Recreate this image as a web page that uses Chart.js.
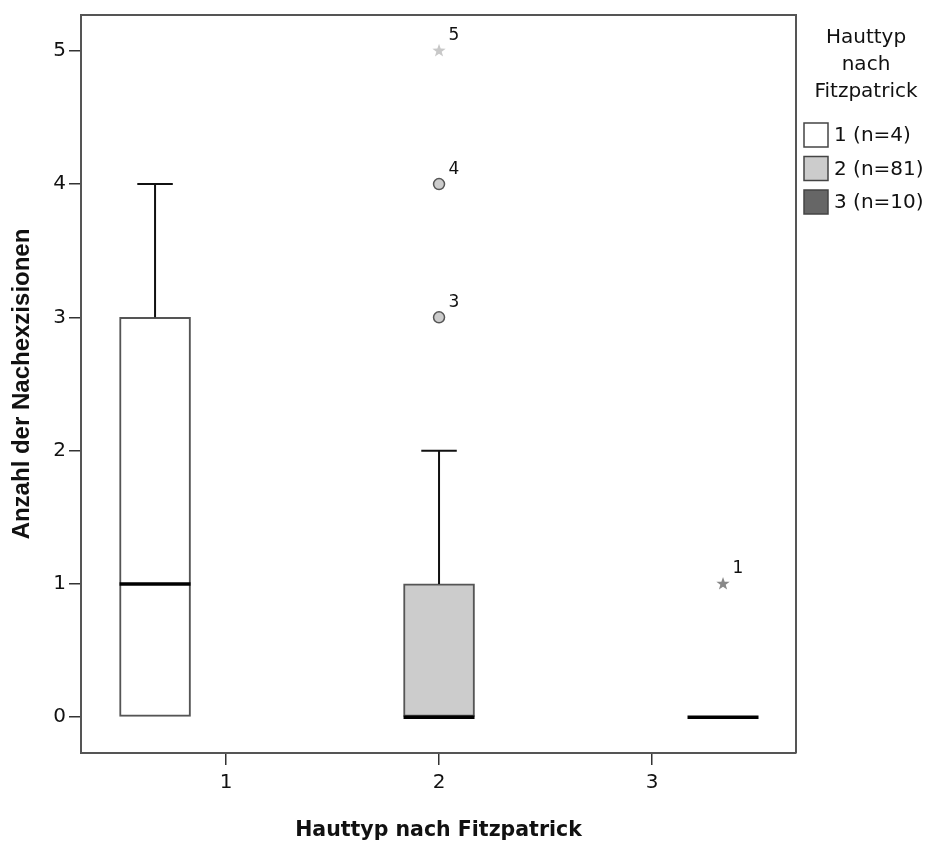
<!DOCTYPE html>
<html>
<head>
<meta charset="utf-8">
<script src="https://cdn.jsdelivr.net/npm/chart.js@4/dist/chart.umd.min.js"></script>
<style>
  html, body { margin: 0; padding: 0; background: #fff; }
  #box { width: 929px; height: 844px; }
</style>
</head>
<body>
<div id="box"><canvas id="chart" width="929" height="844"></canvas></div>
<script>
// Hauttyp nach Fitzpatrick – Boxplot (SPSS-Stil)
const categories = ['1', '2', '3'];
const groupLabels = ['1 (n=4)', '2 (n=81)', '3 (n=10)'];
const q1Values = [0, 0, 0];
const q3Values = [3, 1, 0];
const medianValues = [1, 0, 0];
const whiskerLow = [0, 0, 0];
const whiskerHigh = [4, 2, 0];
// Ausreißer je Gruppe: Wert, Fallnummer, Art (circle = Ausreißer, star = Extremwert)
const outlierValues = [[], [3, 4, 5], [1]];
const outlierIds = [[], ['3', '4', '5'], ['1']];
const outlierKinds = [[], ['circle', 'circle', 'star'], ['star']];
const yTicks = [0, 1, 2, 3, 4, 5];

const fillColors = ['#ffffff', '#cccccc', '#666666'];
const starColors = ['#bbbbbb', '#c8c8c8', '#888888'];
const lineCol = '#555555';
const textCol = '#111111';
const regFont = '"DejaVu Sans", sans-serif';
const boldFont = '"Liberation Sans", Arial, sans-serif';

const datasets = categories.map((c, i) => ({
    label: groupLabels[i]
    ,data: [{ x: Number(c), y: [q1Values[i], q3Values[i]] }]
    ,backgroundColor: fillColors[i]
    ,borderColor: lineCol
    ,borderWidth: 2
    ,borderSkipped: false
    ,categoryPercentage: 1.0
    ,barPercentage: 1.0
}));

function drawStar(ctx, x, y, r, color) {
    ctx.save();
    ctx.fillStyle = color;
    ctx.beginPath();
    for (let k = 0; k < 10; k++) {
        const rr = k % 2 === 0 ? r : r * 0.4;
        const a = -Math.PI / 2 + k * Math.PI / 5;
        const px = x + rr * Math.cos(a), py = y + rr * Math.sin(a);
        if (k === 0) ctx.moveTo(px, py); else ctx.lineTo(px, py);
    }
    ctx.closePath();
    ctx.fill();
    ctx.restore();
}

const boxPlugin = {
    id: 'boxDecor',
    afterDatasetsDraw(chart) {
        const { ctx, chartArea: a, scales: { y } } = chart;
        ctx.save();
        // Rahmen oben / rechts
        ctx.strokeStyle = lineCol;
        ctx.lineWidth = 2;
        ctx.beginPath();
        ctx.moveTo(a.left, a.top); ctx.lineTo(a.right, a.top); ctx.lineTo(a.right, a.bottom);
        ctx.stroke();

        categories.forEach((c, i) => {
            const el = chart.getDatasetMeta(i).data[0];
            if (!el) return;
            const x = el.x, w = el.width;
            // Whisker
            ctx.strokeStyle = '#111';
            ctx.lineWidth = 2;
            const yq3 = y.getPixelForValue(q3Values[i]), yHi = y.getPixelForValue(whiskerHigh[i]);
            const yq1 = y.getPixelForValue(q1Values[i]), yLo = y.getPixelForValue(whiskerLow[i]);
            if (whiskerHigh[i] > q3Values[i]) {
                ctx.beginPath();
                ctx.moveTo(x, yq3); ctx.lineTo(x, yHi);
                ctx.moveTo(x - w / 4, yHi); ctx.lineTo(x + w / 4, yHi);
                ctx.stroke();
            }
            if (whiskerLow[i] < q1Values[i]) {
                ctx.beginPath();
                ctx.moveTo(x, yq1); ctx.lineTo(x, yLo);
                ctx.moveTo(x - w / 4, yLo); ctx.lineTo(x + w / 4, yLo);
                ctx.stroke();
            }
            // Median
            ctx.lineWidth = 3.5;
            ctx.strokeStyle = '#000';
            const ym = y.getPixelForValue(medianValues[i]);
            ctx.beginPath();
            ctx.moveTo(x - w / 2, ym); ctx.lineTo(x + w / 2, ym);
            ctx.stroke();
            // Ausreißer
            outlierValues[i].forEach((v, j) => {
                const py = y.getPixelForValue(v);
                if (outlierKinds[i][j] === 'circle') {
                    ctx.beginPath();
                    ctx.arc(x, py, 5.5, 0, Math.PI * 2);
                    ctx.fillStyle = '#cccccc';
                    ctx.fill();
                    ctx.lineWidth = 1.5;
                    ctx.strokeStyle = lineCol;
                    ctx.stroke();
                } else {
                    drawStar(ctx, x, py, 7, starColors[i]);
                }
                ctx.fillStyle = textCol;
                ctx.font = '17px ' + regFont;
                ctx.textAlign = 'center';
                ctx.textBaseline = 'middle';
                ctx.fillText(outlierIds[i][j], x + 15, py - 15);
            });
        });

        // Legende
        ctx.fillStyle = textCol;
        ctx.font = '20px ' + regFont;
        ctx.textAlign = 'center';
        ctx.textBaseline = 'middle';
        ['Hauttyp', 'nach', 'Fitzpatrick'].forEach((t, k) => ctx.fillText(t, 866, 38 + k * 27));
        ctx.textAlign = 'left';
        groupLabels.forEach((t, k) => {
            const top = 123 + k * 33.5;
            ctx.fillStyle = fillColors[k];
            ctx.fillRect(804, top, 24, 24);
            ctx.strokeStyle = '#444';
            ctx.lineWidth = 1.5;
            ctx.strokeRect(804, top, 24, 24);
            ctx.fillStyle = textCol;
            ctx.fillText(t, 834, top + 13);
        });
        ctx.restore();
    }
};

new Chart(document.getElementById('chart'), {
    type: 'bar',
    data: { datasets },
    options: {
        responsive: false,
        animation: false,
        layout: { padding: { top: 12, right: 133, left: 0, bottom: 0 } },
        plugins: { legend: { display: false }, tooltip: { enabled: false } },
        scales: {
            x: {
                type: 'linear', offset: false, min: 0.319, max: 3.676,
                afterBuildTicks: (s) => { s.ticks = categories.map(c => ({ value: Number(c) })); },
                afterFit: (s) => { s.height = 91; },
                ticks: { color: textCol, font: { family: regFont, size: 20 }, padding: 6,
                    callback: (v) => String(v) },
                grid: { display: true, offset: false, drawOnChartArea: false, drawTicks: true, tickLength: 12, color: '#333', lineWidth: 1.5 },
                border: { display: true, color: lineCol, width: 2 },
                title: { display: true, text: 'Hauttyp nach Fitzpatrick', color: textCol,
                    font: { family: regFont, size: 20.5, weight: 'bold' }, padding: { top: 0, bottom: 1 } }
            },
            y: {
                min: -0.269, max: 5.269,
                afterBuildTicks: (s) => { s.ticks = yTicks.map(v => ({ value: v })); },
                afterFit: (s) => { s.width = 81; },
                ticks: { color: textCol, font: { family: regFont, size: 20 }, padding: 3 },
                grid: { display: true, drawOnChartArea: false, drawTicks: true, tickLength: 12, color: '#333', lineWidth: 1.5 },
                border: { display: true, color: lineCol, width: 2 },
                title: { display: true, text: 'Anzahl der Nachexzisionen', color: textCol,
                    font: { family: boldFont, size: 24, weight: 'bold' }, padding: { top: 8, bottom: 0 } }
            }
        }
    },
    plugins: [boxPlugin]
});
</script>
</body>
</html>
